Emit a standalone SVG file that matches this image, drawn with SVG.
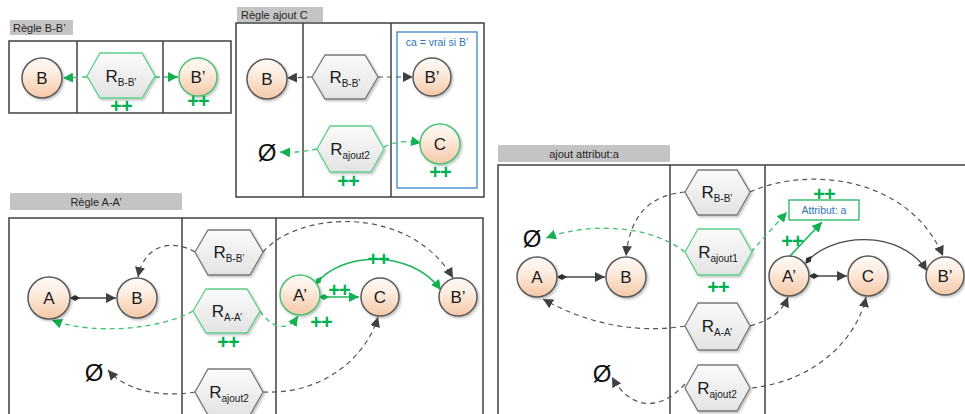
<svg xmlns="http://www.w3.org/2000/svg" width="965" height="414" viewBox="0 0 965 414">
<style>
  .panel{fill:none;stroke:#404040;stroke-width:1.5}
  .div{stroke:#404040;stroke-width:1.5}
  .lbl{fill:#c4c4c4}
  .lt{font-family:"Liberation Sans",Arial,sans-serif;font-size:11px;fill:#262626}
  .node{fill:url(#gC);stroke:#5a5a5a;stroke-width:1.5;filter:url(#sh)}
  .nodeg{fill:url(#gC);stroke:#4cc274;stroke-width:1.5;filter:url(#sh)}
  .hex{fill:url(#gH);stroke:#7a7a7a;stroke-width:1.3;filter:url(#sh)}
  .hexg{fill:url(#gH);stroke:#5fd08a;stroke-width:1.3;filter:url(#sh)}
  .nt{font-family:"Liberation Sans",Arial,sans-serif;font-size:17px;fill:#1a1a1a;text-anchor:middle}
  .sub{font-size:10px}
  .empty{font-family:"Liberation Sans",Arial,sans-serif;font-size:24px;fill:#111;text-anchor:middle}
  .pp{font-family:"Liberation Sans",Arial,sans-serif;font-size:20px;font-weight:bold;fill:#00b050;text-anchor:middle;letter-spacing:-1px}
  .dg{fill:none;stroke:#555;stroke-width:1.2;stroke-dasharray:5,4}
  .dgr{fill:none;stroke:#3cc46e;stroke-width:1.3;stroke-dasharray:5,4}
  .sg{fill:none;stroke:#4a4a4a;stroke-width:1.3}
  .sgr{fill:none;stroke:#1fb65a;stroke-width:1.6}
  .blue{font-family:"Liberation Sans",Arial,sans-serif;font-size:10.5px;fill:#2e75b6;text-anchor:middle}
</style>
<defs>
  <linearGradient id="gC" x1="0" y1="0" x2="0" y2="1">
    <stop offset="0" stop-color="#fefaf6"/>
    <stop offset="0.35" stop-color="#fdeee2"/>
    <stop offset="1" stop-color="#f5c8a6"/>
  </linearGradient>
  <linearGradient id="gH" x1="0" y1="0" x2="0" y2="1">
    <stop offset="0" stop-color="#fbfbfb"/>
    <stop offset="1" stop-color="#e3e3e3"/>
  </linearGradient>
  <filter id="sh" x="-20%" y="-20%" width="150%" height="150%">
    <feDropShadow dx="1.5" dy="1.5" stdDeviation="1" flood-color="#000" flood-opacity="0.25"/>
  </filter>
  <marker id="aG" markerUnits="userSpaceOnUse" markerWidth="12" markerHeight="10" refX="10" refY="5" orient="auto">
    <path d="M0,0 L10,5 L0,10 Z" fill="#404040"/>
  </marker>
  <marker id="aV" markerUnits="userSpaceOnUse" markerWidth="12" markerHeight="10" refX="10" refY="5" orient="auto">
    <path d="M0,0 L10,5 L0,10 Z" fill="#12b050"/>
  </marker>
  <marker id="dG" markerUnits="userSpaceOnUse" markerWidth="12" markerHeight="8" refX="1" refY="4" orient="auto">
    <path d="M0,4 L5,1 L10,4 L5,7 Z" fill="#303030"/>
  </marker>
  <marker id="dV" markerUnits="userSpaceOnUse" markerWidth="12" markerHeight="8" refX="1" refY="4" orient="auto">
    <path d="M0,4 L5,1 L10,4 L5,7 Z" fill="#12b050"/>
  </marker>
</defs>

<!-- Panels -->
<g id="panel-bb">
  <rect class="lbl" x="10" y="20" width="63" height="15"/>
  <text class="lt" x="13" y="31.5">Règle B-B’</text>
  <rect class="panel" x="9" y="41" width="222" height="72"/>
  <line class="div" x1="77" y1="41" x2="77" y2="113"/>
  <line class="div" x1="163" y1="41" x2="163" y2="113"/>
</g>
<g id="panel-ajoutc">
  <rect class="lbl" x="237" y="7" width="86" height="15"/>
  <text class="lt" x="241" y="18.5">Règle ajout C</text>
  <rect class="panel" x="236" y="23" width="248" height="174"/>
  <line class="div" x1="303" y1="23" x2="303" y2="197"/>
  <line class="div" x1="391" y1="23" x2="391" y2="197"/>
  <rect x="397" y="32" width="80" height="156" fill="none" stroke="#3a86c8" stroke-width="1.3"/>
  <text class="blue" x="437" y="46">ca = vrai si B’</text>
</g>
<g id="panel-aa">
  <rect class="lbl" x="10" y="193" width="172" height="17"/>
  <text class="lt" x="96" y="205.5" text-anchor="middle">Règle A-A’</text>
  <rect class="panel" x="9" y="218" width="474" height="220"/>
  <line class="div" x1="182" y1="218" x2="182" y2="414"/>
  <line class="div" x1="276" y1="218" x2="276" y2="414"/>
</g>
<g id="panel-attr">
  <rect class="lbl" x="498" y="145" width="172" height="17"/>
  <text class="lt" x="584" y="157.5" text-anchor="middle">ajout attribut:a</text>
  <rect class="panel" x="498" y="165" width="490" height="270"/>
  <line class="div" x1="670" y1="165" x2="670" y2="414"/>
  <line class="div" x1="765" y1="165" x2="765" y2="414"/>
</g>

<!-- Connectors -->
<g id="connectors">
  <!-- panel 1 -->
  <path class="dgr" d="M87,77 L63,78" marker-end="url(#aV)"/>
  <path class="dgr" d="M155,77 L178,77" marker-end="url(#aV)"/>
  <!-- panel 2 -->
  <path class="dg" d="M312,77 L287,78" marker-end="url(#aG)"/>
  <path class="dg" d="M378,77 L413,77" marker-end="url(#aG)"/>
  <path class="dgr" d="M317,149 Q300,153 280,152" marker-end="url(#aV)"/>
  <path class="dgr" d="M384,147 Q400,139 421,143" marker-end="url(#aV)"/>
  <!-- panel 3 -->
  <path class="sg" d="M71,298 L116,298" marker-start="url(#dG)" marker-end="url(#aG)"/>
  <path class="dg" d="M195,252 C175,240 145,242 138,277" marker-end="url(#aG)"/>
  <path class="dg" d="M263,252 C300,210 410,205 453,278" marker-end="url(#aG)"/>
  <path class="dgr" d="M193,311 C160,330 90,335 52,320" marker-end="url(#aV)"/>
  <path class="dgr" d="M260,311 C270,326 286,334 298,316" marker-end="url(#aV)"/>
  <path class="sgr" d="M320,297 L359,297" marker-start="url(#dV)" marker-end="url(#aV)"/>
  <path class="sgr" d="M316,284 C340,252 410,248 441,290" marker-start="url(#dV)" marker-end="url(#aV)"/>
  <path class="dg" d="M263,392 C320,395 365,360 378,317" marker-end="url(#aG)"/>
  <path class="dg" d="M195,392 C160,398 125,390 108,370" marker-end="url(#aG)"/>
  <!-- panel 4 -->
  <path class="sg" d="M558,277 L605,277" marker-start="url(#dG)" marker-end="url(#aG)"/>
  <path class="dg" d="M685,192 C650,195 630,215 626,256" marker-end="url(#aG)"/>
  <path class="dg" d="M750,192 C810,165 910,178 943,256" marker-end="url(#aG)"/>
  <path class="dgr" d="M685,252 C650,225 590,222 546,238" marker-end="url(#aV)"/>
  <path class="dgr" d="M751,252 L787,212" marker-end="url(#aV)"/>
  <path class="sgr" d="M790,256 L822,222" marker-end="url(#aV)"/>
  <path class="sg" d="M810,276 L847,276" marker-start="url(#dG)" marker-end="url(#aG)"/>
  <path class="sg" d="M806,263 C830,233 900,228 927,271" marker-start="url(#dG)" marker-end="url(#aG)"/>
  <path class="dg" d="M685,326 C630,335 580,320 543,299" marker-end="url(#aG)"/>
  <path class="dg" d="M750,326 C770,320 782,312 788,297" marker-end="url(#aG)"/>
  <path class="dg" d="M752,388 C820,380 858,335 866,297" marker-end="url(#aG)"/>
  <path class="dg" d="M685,384 C660,412 630,410 612,377" marker-end="url(#aG)"/>
</g>

<!-- Panel 1 nodes -->
<g id="p1-B"><circle class="node" cx="42" cy="78" r="20"/><text class="nt" x="42" y="84">B</text></g>
<g id="p1-Rbb"><polygon class="hexg" points="87,76 100,53 142,53 155,76 142,98 100,98"/><text class="nt" x="121" y="82">R<tspan class="sub" dy="4">B-B’</tspan></text><text class="pp" x="121" y="113">++</text></g>
<g id="p1-Bp"><circle class="nodeg" cx="198" cy="77" r="19"/><text class="nt" x="198" y="83">B’</text><text class="pp" x="198" y="108">++</text></g>

<!-- Panel 2 nodes -->
<g id="p2-B"><circle class="node" cx="267" cy="79" r="20"/><text class="nt" x="267" y="85">B</text></g>
<g id="p2-Rbb"><polygon class="hex" points="312,77 325,55 365,55 378,77 365,99 325,99"/><text class="nt" x="345" y="83">R<tspan class="sub" dy="4">B-B’</tspan></text></g>
<g id="p2-Bp"><circle class="node" cx="432" cy="77" r="19"/><text class="nt" x="432" y="83">B’</text></g>
<g id="p2-empty"><text class="empty" x="267" y="161">Ø</text></g>
<g id="p2-Raj2"><polygon class="hexg" points="317,149 330,126 371,126 384,149 371,172 330,172" /><text class="nt" x="350" y="155">R<tspan class="sub" dy="4">ajout2</tspan></text><text class="pp" x="348" y="188">++</text></g>
<g id="p2-C"><circle class="nodeg" cx="440" cy="144" r="20"/><text class="nt" x="440" y="150">C</text><text class="pp" x="440" y="179">++</text></g>

<!-- Panel 3 nodes -->
<g id="p3-A"><circle class="node" cx="49" cy="298" r="21"/><text class="nt" x="49" y="304">A</text></g>
<g id="p3-B"><circle class="node" cx="137" cy="298" r="20"/><text class="nt" x="137" y="304">B</text></g>
<g id="p3-Rbb"><polygon class="hex" points="195,252 208,230 250,230 263,252 250,275 208,275"/><text class="nt" x="229" y="258">R<tspan class="sub" dy="4">B-B’</tspan></text></g>
<g id="p3-Raa"><polygon class="hexg" points="193,311 206,289 247,289 260,311 247,333 206,333"/><text class="nt" x="227" y="317">R<tspan class="sub" dy="4">A-A’</tspan></text><text class="pp" x="228" y="349">++</text></g>
<g id="p3-Raj2"><polygon class="hex" points="195,392 208,369 250,369 263,392 250,415 208,415"/><text class="nt" x="229" y="398">R<tspan class="sub" dy="4">ajout2</tspan></text></g>
<g id="p3-empty"><text class="empty" x="94" y="381">Ø</text></g>
<g id="p3-Ap"><circle class="nodeg" cx="300" cy="295" r="20"/><text class="nt" x="300" y="301">A’</text><text class="pp" x="321" y="329">++</text></g>
<g id="p3-C"><circle class="node" cx="380" cy="297" r="19"/><text class="nt" x="380" y="303">C</text></g>
<g id="p3-Bp"><circle class="node" cx="458" cy="297" r="19"/><text class="nt" x="458" y="303">B’</text></g>
<g id="p3-marks"><text class="pp" x="339" y="297">++</text><text class="pp" x="378" y="266">++</text></g>

<!-- Panel 4 nodes -->
<g id="p4-A"><circle class="node" cx="537" cy="277" r="20"/><text class="nt" x="537" y="283">A</text></g>
<g id="p4-B"><circle class="node" cx="626" cy="277" r="20"/><text class="nt" x="626" y="283">B</text></g>
<g id="p4-empty1"><text class="empty" x="532" y="247">Ø</text></g>
<g id="p4-empty2"><text class="empty" x="602" y="382">Ø</text></g>
<g id="p4-Rbb"><polygon class="hex" points="685,192 698,170 737,170 750,192 737,215 698,215"/><text class="nt" x="717" y="198">R<tspan class="sub" dy="4">B-B’</tspan></text></g>
<g id="p4-Raj1"><polygon class="hexg" points="685,252 698,229 739,229 752,252 739,275 698,275"/><text class="nt" x="718" y="258">R<tspan class="sub" dy="4">ajout1</tspan></text><text class="pp" x="718" y="294">++</text></g>
<g id="p4-Raa"><polygon class="hex" points="685,326 698,303 737,303 750,326 737,350 698,350"/><text class="nt" x="717" y="332">R<tspan class="sub" dy="4">A-A’</tspan></text></g>
<g id="p4-Raj2"><polygon class="hex" points="685,388 698,365 737,365 750,388 737,411 698,411"/><text class="nt" x="717" y="394">R<tspan class="sub" dy="4">ajout2</tspan></text></g>
<g id="p4-Ap"><circle class="node" cx="789" cy="276" r="20"/><text class="nt" x="789" y="282">A’</text></g>
<g id="p4-C"><circle class="node" cx="868" cy="276" r="20"/><text class="nt" x="868" y="282">C</text></g>
<g id="p4-Bp"><circle class="node" cx="945" cy="276" r="19"/><text class="nt" x="945" y="282">B’</text></g>
<g id="p4-attr"><rect x="789" y="200" width="70" height="20" fill="#fff" stroke="#1fb65a" stroke-width="1.3"/><text class="blue" x="824" y="214" font-size="11">Attribut: a</text><text class="pp" x="824" y="201">++</text></g>
<g id="p4-marks"><text class="pp" x="792" y="248">++</text></g>
</svg>
